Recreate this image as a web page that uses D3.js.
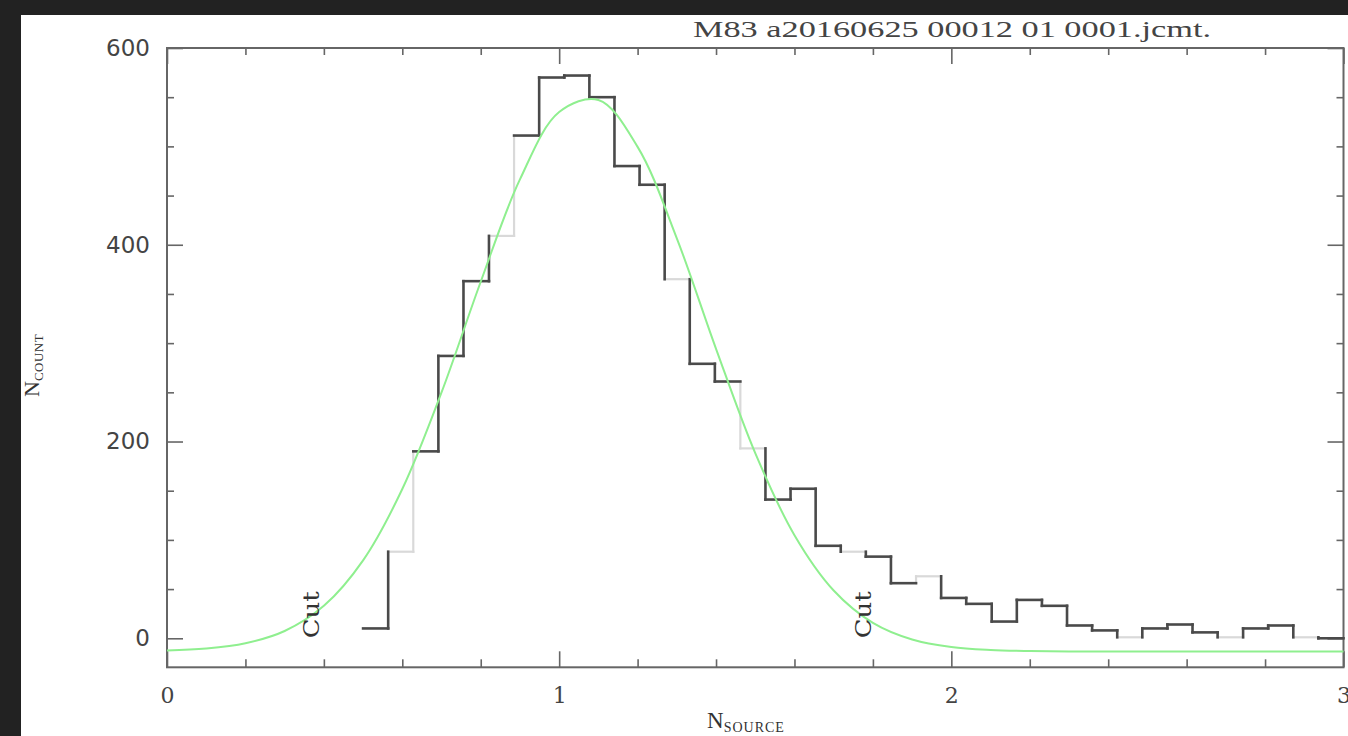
<!DOCTYPE html>
<html>
<head>
<meta charset="utf-8">
<script src="https://cdn.jsdelivr.net/npm/d3@7"></script>
<style>
  html, body { margin: 0; padding: 0; background: #222; overflow: hidden; }
  svg { display: block; }
</style>
</head>
<body>
<svg id="chart" width="1348" height="736"></svg>
<script>
// histogram bins (N_source), left edge of each bin plus the final right edge
const binEdges = [0.500, 0.564, 0.628, 0.692, 0.756, 0.821, 0.885, 0.949, 1.013, 1.077,
  1.141, 1.205, 1.269, 1.333, 1.397, 1.462, 1.526, 1.590, 1.654, 1.718,
  1.782, 1.846, 1.910, 1.974, 2.038, 2.103, 2.167, 2.231, 2.295, 2.359,
  2.423, 2.487, 2.551, 2.615, 2.679, 2.744, 2.808, 2.872, 2.936, 3.000];
const binCounts = [10, 88, 190, 287, 363, 409, 511, 570, 572, 550,
  480, 461, 365, 279, 261, 193, 141, 152, 94, 88,
  83, 56, 63, 41, 35, 17, 39, 33, 13, 8,
  1, 10, 14, 6, 1, 10, 13, 1, 0];

// fitted curve
const fitX = [0.0, 0.1, 0.2, 0.3, 0.4, 0.5, 0.6, 0.7, 0.8, 0.9, 1.0,
  1.1, 1.2, 1.3, 1.4, 1.5, 1.6, 1.7, 1.8, 1.9, 2.0,
  2.1, 2.2, 2.3, 2.4, 2.5, 2.6, 2.7, 2.8, 2.9, 3.0];
const fitY = [-12.5, -10.5, -5.1, 7.4, 33.0, 79.2, 151.7, 249.9, 362.4, 466.4, 534.9,
  547.2, 499.5, 406.5, 294.2, 188.2, 104.8, 48.6, 15.7, -1.2, -8.9,
  -11.9, -13.0, -13.4, -13.5, -13.5, -13.5, -13.5, -13.5, -13.5, -13.5];

const cutValues = [0.365, 1.772];
const xTicks = [0, 1, 2, 3];
const yTicks = [0, 200, 400, 600];
const titleText = 'M83 a20160625 00012 01 0001.jcmt.';

// segments drawn faint in the original rendering
const faintBins = [1, 5, 12, 15, 19, 22, 30, 34, 37];
const faintEdges = [2, 6, 15, 22];

function renderChart() {
  const W = 1348, H = 736;
  const plot = { left: 167, right: 1343.5, top: 48, bottom: 667.3 };

  const svg = d3.select('#chart');

  svg.append('rect').attr('width', W).attr('height', H).attr('fill', '#222');
  svg.append('rect')
    .attr('x', 21).attr('y', 15)
    .attr('width', W - 21).attr('height', H - 15)
    .attr('fill', '#fff');

  const x = d3.scaleLinear().domain([0, 3]).range([plot.left, plot.right]);
  const y = d3.scaleLinear().domain([-29.5, 600]).range([plot.bottom, plot.top]);

  const xMinor = d3.range(0.2, 3, 0.2).filter(v => Math.abs(v - Math.round(v)) > 1e-6);
  const yMinor = d3.range(0, 601, 50).filter(v => v % 200 !== 0);

  const styleAxis = g => {
    g.select('.domain').remove();
    g.selectAll('line').attr('stroke', '#666').attr('stroke-width', 1.6);
  };

  // bottom
  svg.append('g')
    .attr('transform', `translate(0,${plot.bottom})`)
    .call(d3.axisBottom(x).tickValues(xTicks).tickSize(-16).tickPadding(20).tickFormat(d3.format('d')))
    .call(styleAxis)
    .call(g => g.selectAll('text')
      .attr('fill', '#444')
      .style('font-family', '"DejaVu Serif", serif')
      .style('font-size', '22px'));
  svg.append('g')
    .attr('transform', `translate(0,${plot.bottom})`)
    .call(d3.axisBottom(x).tickValues(xMinor).tickSize(-8).tickFormat(''))
    .call(styleAxis);

  // top
  svg.append('g')
    .attr('transform', `translate(0,${plot.top})`)
    .call(d3.axisTop(x).tickValues(xTicks).tickSize(-16).tickFormat(''))
    .call(styleAxis);
  svg.append('g')
    .attr('transform', `translate(0,${plot.top})`)
    .call(d3.axisTop(x).tickValues(xMinor).tickSize(-7).tickFormat(''))
    .call(styleAxis);

  // left
  svg.append('g')
    .attr('transform', `translate(${plot.left},0)`)
    .call(d3.axisLeft(y).tickValues(yTicks).tickSize(-16).tickPadding(17))
    .call(styleAxis)
    .call(g => g.selectAll('text')
      .attr('fill', '#444')
      .style('font-family', '"DejaVu Sans", sans-serif')
      .style('font-size', '23px'));
  svg.append('g')
    .attr('transform', `translate(${plot.left},0)`)
    .call(d3.axisLeft(y).tickValues(yMinor).tickSize(-7).tickFormat(''))
    .call(styleAxis);

  // right
  svg.append('g')
    .attr('transform', `translate(${plot.right},0)`)
    .call(d3.axisRight(y).tickValues(yTicks).tickSize(-16).tickFormat(''))
    .call(styleAxis);
  svg.append('g')
    .attr('transform', `translate(${plot.right},0)`)
    .call(d3.axisRight(y).tickValues(yMinor).tickSize(-7).tickFormat(''))
    .call(styleAxis);

  // frame
  svg.append('rect')
    .attr('x', plot.left).attr('y', plot.top)
    .attr('width', plot.right - plot.left).attr('height', plot.bottom - plot.top)
    .attr('fill', 'none').attr('stroke', '#666').attr('stroke-width', 2);

  // histogram as separate step segments
  const segs = [];
  binCounts.forEach((c, i) => {
    segs.push({ x1: binEdges[i], y1: c, x2: binEdges[i + 1], y2: c, faint: faintBins.includes(i) });
    if (i < binCounts.length - 1) {
      segs.push({ x1: binEdges[i + 1], y1: c, x2: binEdges[i + 1], y2: binCounts[i + 1], faint: faintEdges.includes(i + 1) });
    }
  });

  const hist = svg.append('g');
  hist.selectAll('.faint')
    .data(segs.filter(d => d.faint))
    .enter()
    .append('line')
    .attr('x1', d => x(d.x1)).attr('y1', d => y(d.y1))
    .attr('x2', d => x(d.x2)).attr('y2', d => y(d.y2))
    .attr('stroke', '#d9d9d9')
    .attr('stroke-width', 2.2)
    .attr('stroke-linecap', 'square');
  hist.selectAll('.dark')
    .data(segs.filter(d => !d.faint))
    .enter()
    .append('line')
    .attr('x1', d => x(d.x1)).attr('y1', d => y(d.y1))
    .attr('x2', d => x(d.x2)).attr('y2', d => y(d.y2))
    .attr('stroke', '#4a4a4a')
    .attr('stroke-width', 2.6)
    .attr('stroke-linecap', 'square');

  // fitted curve
  const fitLine = d3.line()
    .x(d => x(d[0]))
    .y(d => y(d[1]))
    .curve(d3.curveCatmullRom.alpha(0.5));
  svg.append('path')
    .datum(fitX.map((v, i) => [v, fitY[i]]))
    .attr('d', fitLine)
    .attr('fill', 'none')
    .attr('stroke', '#8fef8f')
    .attr('stroke-width', 2);

  // cut markers
  svg.selectAll('.cut')
    .data(cutValues)
    .enter()
    .append('text')
    .attr('transform', d => `translate(${x(d) + 9},${y(0)}) rotate(-90)`)
    .attr('text-anchor', 'start')
    .attr('textLength', 47)
    .attr('lengthAdjust', 'spacingAndGlyphs')
    .style('font-family', '"DejaVu Serif", serif')
    .style('font-size', '23px')
    .style('fill', '#333')
    .text('Cut');

  // title
  svg.append('text')
    .attr('x', 693).attr('y', 37)
    .attr('textLength', 518)
    .attr('lengthAdjust', 'spacingAndGlyphs')
    .style('font-family', '"Liberation Serif", serif')
    .style('font-size', '24px')
    .style('fill', '#444')
    .text(titleText);

  // x label
  const xl = svg.append('text')
    .attr('x', 707).attr('y', 728)
    .style('font-family', '"Liberation Serif", serif')
    .style('fill', '#333');
  xl.append('tspan').style('font-size', '23px').text('N');
  xl.append('tspan').attr('dy', 4).style('font-size', '14px').attr('letter-spacing', 1).text('SOURCE');

  // y label
  const yl = svg.append('text')
    .attr('transform', 'translate(39,397) rotate(-90)')
    .style('font-family', '"Liberation Serif", serif')
    .style('fill', '#333');
  yl.append('tspan').style('font-size', '22px').text('N');
  yl.append('tspan').attr('dy', 4).style('font-size', '13px').attr('letter-spacing', 0.5).text('COUNT');
}

renderChart();
</script>
</body>
</html>
